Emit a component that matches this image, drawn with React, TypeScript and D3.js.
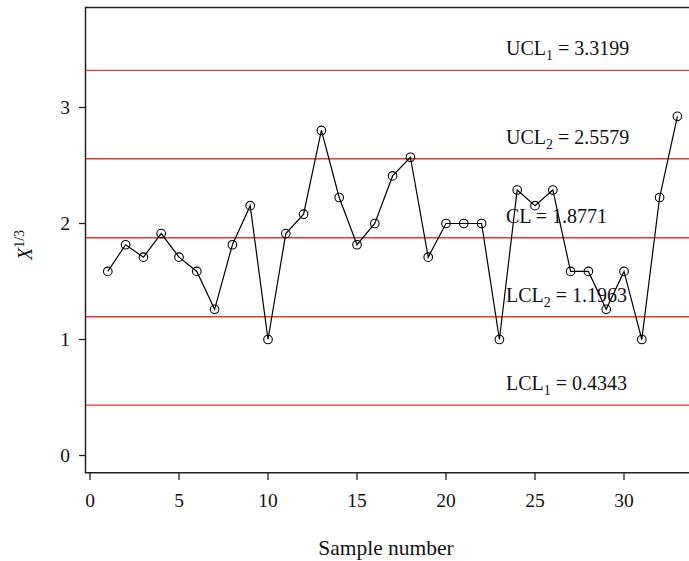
import React from "react";
import * as d3 from "d3";

const samples = [1,2,3,4,5,6,7,8,9,10,11,12,13,14,15,16,17,18,19,20,21,22,23,24,25,26,27,28,29,30,31,32,33];
const values = [1.587,1.817,1.71,1.913,1.71,1.587,1.26,1.817,2.154,1.0,1.913,2.08,2.802,2.224,1.817,2.0,2.41,2.571,1.71,2.0,2.0,2.0,1.0,2.289,2.154,2.289,1.587,1.587,1.26,1.587,1.0,2.224,2.924];
const limitNames = ["UCL", "UCL", "CL", "LCL", "LCL"];
const limitSubs = ["1", "2", "", "2", "1"];
const limitValues = [3.3199, 2.5579, 1.8771, 1.1963, 0.4343];
const xTicks = [0, 5, 10, 15, 20, 25, 30];
const yTicks = [0, 1, 2, 3];

const W = 689, H = 561;
const FONT = "'Liberation Serif', 'Times New Roman', serif";

export default function App() {
  const x = d3.scaleLinear().domain([0, 30]).range([90, 624]);
  const y = d3.scaleLinear().domain([0, 3]).range([455.5, 107.5]);
  const left = 85.5, top = 7.5, bottom = 472.7, right = 695;
  const line = d3.line<number>().x((_, i) => x(samples[i])).y((d) => y(d));
  return (
    <svg width={W} height={H} style={{ position: "absolute", left: 0, top: 0, background: "#fff" }} fontFamily={FONT}>
      {limitValues.map((v, i) => (
        <line key={"l" + i} x1={left} x2={right} y1={y(v)} y2={y(v)} stroke="#e8372c" strokeWidth={1.4} />
      ))}
      {limitValues.map((v, i) => (
        <text key={"t" + i} x={506} y={y(v) - 15} fontSize={20} fill="#111">
          {limitNames[i]}
          {limitSubs[i] ? <tspan fontSize={14} dy={5}>{limitSubs[i]}</tspan> : null}
          <tspan dy={limitSubs[i] ? -5 : 0}>{" = " + v.toFixed(4)}</tspan>
        </text>
      ))}
      <path d={line(values) || ""} fill="none" stroke="#000" strokeWidth={1.2} />
      {values.map((v, i) => (
        <circle key={"c" + i} cx={x(samples[i])} cy={y(v)} r={4.3} fill="none" stroke="#000" strokeWidth={1.1} />
      ))}
      <path d={`M${right},${top}H${left}V${bottom}H${right}`} fill="none" stroke="#222" strokeWidth={1.5} />
      {yTicks.map((t) => (
        <g key={"yt" + t}>
          <line x1={79} x2={left} y1={y(t)} y2={y(t)} stroke="#222" strokeWidth={1.3} />
          <text x={70} y={y(t) + 6.5} fontSize={19.5} textAnchor="end" fill="#111">{t}</text>
        </g>
      ))}
      {xTicks.map((t) => (
        <g key={"xt" + t}>
          <line x1={x(t)} x2={x(t)} y1={bottom} y2={480} stroke="#222" strokeWidth={1.3} />
          <text x={x(t)} y={506.5} fontSize={19.5} textAnchor="middle" fill="#111">{t}</text>
        </g>
      ))}
      <text x={386} y={555} fontSize={21.5} textAnchor="middle" fill="#111">Sample number</text>
      <text transform="translate(32,245) rotate(-90)" fontSize={20} textAnchor="middle" fill="#111">
        <tspan fontStyle="italic">X</tspan>
        <tspan fontSize={14} dy={-8}>1/3</tspan>
      </text>
    </svg>
  );
}
